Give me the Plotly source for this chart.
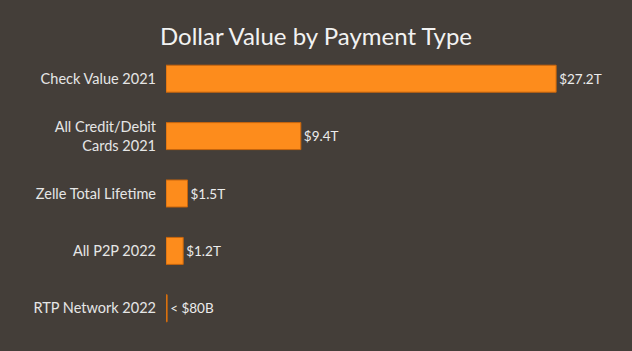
import plotly.graph_objects as go

categories = ["Check Value 2021", "All Credit/Debit<br>Cards 2021", "Zelle Total Lifetime", "All P2P 2022", "RTP Network 2022"]
values_trillions = [27.2, 9.4, 1.5, 1.2, 0.08]
value_labels = ["$27.2T", "$9.4T", "$1.5T", "$1.2T", "< $80B"]

BG = "#443e39"
ORANGE = "#fd8c1c"

fig = go.Figure(go.Bar(
    y=categories,
    x=values_trillions,
    orientation="h",
    text=value_labels,
    textposition="outside",
    cliponaxis=False,
    textfont=dict(color="#ececec", size=13.5, family="Lato"),
    marker=dict(color=ORANGE, line=dict(color="#c8650c", width=1)),
    width=0.47,
    hoverinfo="skip",
))

fig.update_layout(
    width=632, height=351,
    paper_bgcolor=BG, plot_bgcolor=BG,
    margin=dict(l=166, r=40, t=50, b=14),
    title=dict(text="Dollar Value by Payment Type", x=0.5, xanchor="center",
               y=0.895, yanchor="middle",
               font=dict(color="#f2f2f2", size=24, family="Lato")),
    showlegend=False,
    xaxis=dict(range=[0, 29.7], visible=False, showgrid=False, zeroline=False),
    yaxis=dict(autorange="reversed", showgrid=False, zeroline=False, showline=False,
               ticks="", ticklabelstandoff=9,
               tickfont=dict(color="#e6e6e6", size=14.5, family="Lato")),
)

fig.write_html("out.html")
